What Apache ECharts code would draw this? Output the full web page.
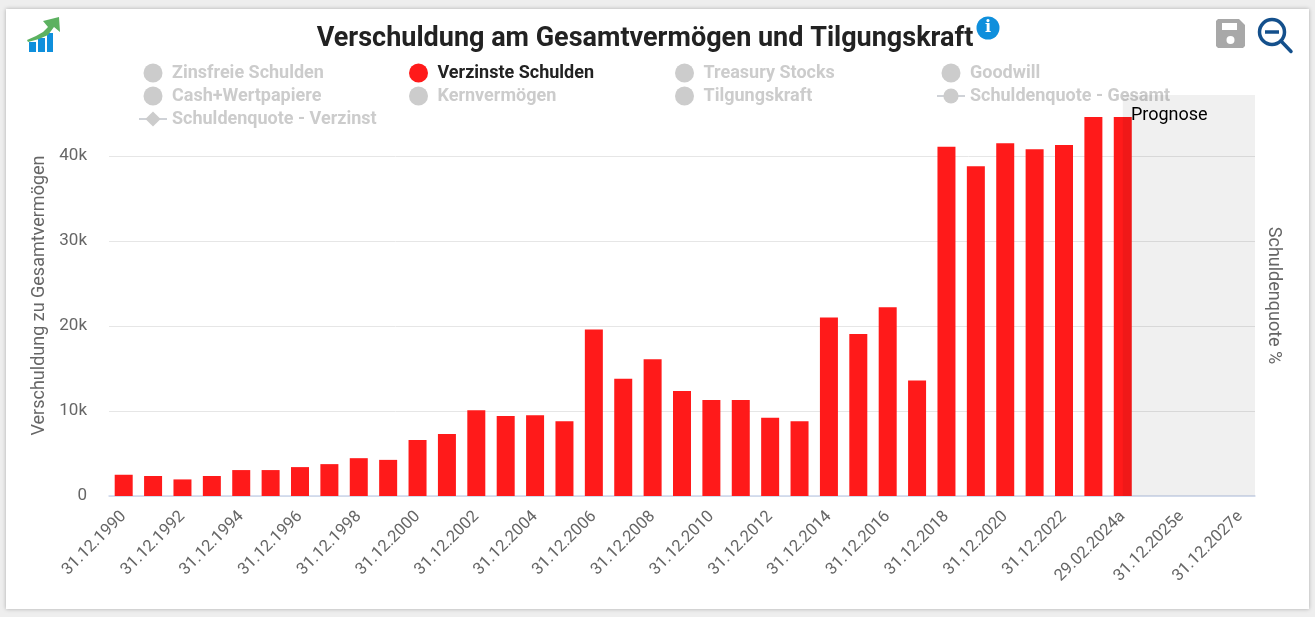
<!DOCTYPE html>
<html><head><meta charset="utf-8">
<script src="https://cdn.jsdelivr.net/npm/echarts@6/dist/echarts.min.js"></script>
<style>
html,body{margin:0;padding:0;width:1315px;height:617px;overflow:hidden;background:#eeeeee}
#card{position:absolute;left:6px;top:9px;width:1303px;height:600px;background:#fff;box-shadow:0 0 4px rgba(0,0,0,.28)}
#chart{position:absolute;left:0;top:0;width:1315px;height:617px}
</style></head><body>
<div id="card"></div><div id="chart"></div>
<script>
const titleText = 'Verschuldung am Gesamtvermögen und Tilgungskraft';
const categories = ['31.12.1990','31.12.1991','31.12.1992','31.12.1993','31.12.1994','31.12.1995','31.12.1996','31.12.1997','31.12.1998','31.12.1999','31.12.2000','31.12.2001','31.12.2002','31.12.2003','31.12.2004','31.12.2005','31.12.2006','31.12.2007','31.12.2008','31.12.2009','31.12.2010','31.12.2011','31.12.2012','31.12.2013','31.12.2014','31.12.2015','31.12.2016','31.12.2017','31.12.2018','31.12.2019','31.12.2020','31.12.2021','31.12.2022','31.12.2023','29.02.2024a','31.12.2024e','31.12.2025e','31.12.2026e','31.12.2027e'];
const verzinsteSchulden = [2500,2350,1950,2350,3050,3050,3400,3750,4450,4250,6600,7300,10100,9400,9500,8800,19600,13800,16100,12350,11300,11300,9200,8800,21000,19050,22200,13600,41100,38800,41500,40800,41300,44600,44600];
const legendColumns = [
  ['Zinsfreie Schulden','Cash+Wertpapiere','Schuldenquote - Verzinst'],
  ['Verzinste Schulden','Kernvermögen'],
  ['Treasury Stocks','Tilgungskraft'],
  ['Goodwill','Schuldenquote - Gesamt']
];
const barSeriesNames = ['Zinsfreie Schulden','Verzinste Schulden','Treasury Stocks','Goodwill','Cash+Wertpapiere','Kernvermögen','Tilgungskraft'];
const lineSeries = [{name:'Schuldenquote - Gesamt',symbol:'circle'},{name:'Schuldenquote - Verzinst',symbol:'diamond'}];
const prognoseStart = 34.5;
const prognoseLabelX = 34.76;
const prognoseLabelLevel = 44720;
const axisMax = 47180;

const RED='#ff1a1a', GREY='#cccccc', FONT='Roboto';
const selected={};
[...barSeriesNames,...lineSeries.map(s=>s.name)].forEach(n=>selected[n]=n==='Verzinste Schulden');
const legendLefts=[138,409,675,936];
const chart=echarts.init(document.getElementById('chart'),null,{renderer:'canvas'});
const G=(type,shape,style,extra)=>Object.assign({type,shape,style},extra||{});
const BLUE='#0f8fdc', GREEN='#5cb160', NAVY='#14508c';
chart.setOption({
  animation:false,
  textStyle:{fontFamily:FONT},
  title:{text:titleText,left:640,top:34,textAlign:'center',textVerticalAlign:'middle',
    textStyle:{fontFamily:FONT,fontWeight:'bold',fontSize:27,color:'#222'}},
  legend:legendColumns.map((data,i)=>({
    data:data.map(n=>barSeriesNames.includes(n)?{name:n,icon:'circle'}:{name:n}),
    orient:'vertical',left:legendLefts[i],top:63.5,itemWidth:28,itemHeight:19,itemGap:4,selected,
    selectedMode:true,inactiveColor:GREY,inactiveBorderColor:GREY,
    padding:0,textStyle:{fontFamily:FONT,fontWeight:'bold',fontSize:18,color:'#222',lineHeight:19},
    itemStyle:{borderWidth:0}
  })),
  grid:{left:109,right:60,top:95,bottom:121,containLabel:false},
  xAxis:[
    {type:'category',data:categories,boundaryGap:true,
     axisLine:{lineStyle:{color:'#ccd6eb',width:1.5}},axisTick:{show:false},
     axisLabel:{interval:1,rotate:45,fontFamily:FONT,fontSize:16.5,color:'#666',margin:18}},
    {type:'value',min:0,max:categories.length,show:false}
  ],
  yAxis:[
    {type:'value',min:0,max:axisMax,interval:10000,name:'Verschuldung zu Gesamtvermögen',
     nameLocation:'middle',nameGap:60,nameTextStyle:{fontFamily:FONT,fontSize:18,color:'#666'},
     axisLine:{show:false},axisTick:{show:false},
     axisLabel:{showMaxLabel:false,fontFamily:FONT,fontSize:17,color:'#666',margin:22,padding:[6,0,0,0],formatter:v=>v===0?'0':(v/1000)+'k'},
     splitLine:{showMaxLine:false,lineStyle:{color:'#e6e6e6',width:1}}},
    {type:'value',min:0,max:100,position:'right',name:'Schuldenquote %',
     nameLocation:'middle',nameGap:9,nameRotate:-90,nameTextStyle:{fontFamily:FONT,fontSize:18,color:'#666'},
     axisLine:{show:false},axisTick:{show:false},axisLabel:{show:false},splitLine:{show:false}}
  ],
  series:[
    ...barSeriesNames.map(name=>({name,type:'bar',stack:'a',barWidth:18,
      data:name==='Verzinste Schulden'?verzinsteSchulden:[],
      itemStyle:{color:name==='Verzinste Schulden'?RED:GREY},z:2})),
    ...lineSeries.map(s=>({name:s.name,type:'line',yAxisIndex:1,data:[],symbol:s.symbol,symbolSize:12,
      itemStyle:{color:GREY},lineStyle:{color:GREY,width:3}})),
    {name:'Prognoseband',type:'line',xAxisIndex:1,yAxisIndex:0,data:[],z:5,silent:true,
     markArea:{silent:true,z:5,itemStyle:{color:'rgba(0,0,0,0.06)'},label:{show:false},
       data:[[{xAxis:prognoseStart,yAxis:0},{xAxis:categories.length,yAxis:axisMax}]]}},
    {name:'Prognose',type:'scatter',xAxisIndex:1,yAxisIndex:0,z:6,silent:true,symbolSize:1,
     itemStyle:{color:'rgba(0,0,0,0)'},data:[[prognoseLabelX,prognoseLabelLevel]],
     label:{show:true,position:'right',distance:0,formatter:'Prognose',color:'#000',opacity:1,fontFamily:FONT,fontSize:18}}
  ],
  graphic:[
    G('rect',{x:29,y:42,width:7,height:10},{fill:BLUE}),
    G('rect',{x:38,y:38,width:7,height:14},{fill:BLUE}),
    G('rect',{x:47,y:33,width:6,height:19},{fill:BLUE}),
    G('polygon',{points:[[27,40],[36,36],[43,32],[48,27],[43,21],[59,17],[60,32],[54,27],[48,35],[39,39],[28,42]]},{fill:GREEN}),
    G('circle',{cx:988,cy:28,r:11.5},{fill:BLUE}),
    {type:'text',style:{x:988,y:28,text:'i',fill:'#fff',font:'bold 16px "DejaVu Serif"',textAlign:'center',textVerticalAlign:'middle'}},
    G('polygon',{points:[[1218,19],[1239,19],[1245,25],[1245,46],[1243,48],[1218,48],[1216,46],[1216,21]]},{fill:'#a8a8a8'}),
    G('rect',{x:1222,y:23,width:15,height:7},{fill:'#fff'}),
    G('circle',{cx:1230.5,cy:40,r:4},{fill:'#fff'}),
    G('circle',{cx:1272,cy:32,r:12.5},{fill:'none',stroke:NAVY,lineWidth:3.5}),
    G('line',{x1:1265,y1:32,x2:1279,y2:32},{stroke:NAVY,lineWidth:3.5}),
    G('line',{x1:1281,y1:41,x2:1291,y2:51.5},{stroke:NAVY,lineWidth:3.5,lineCap:'round'})
  ]
});
</script></body></html>
